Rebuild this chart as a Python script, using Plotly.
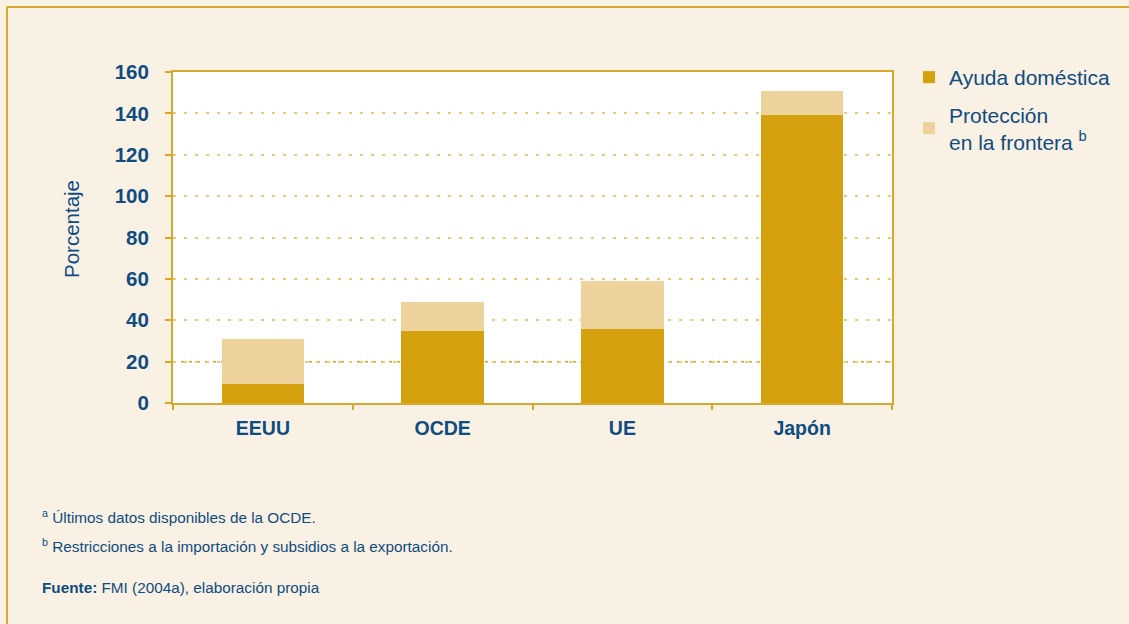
import plotly.graph_objects as go

categories = ["EEUU", "OCDE", "UE", "Japón"]
ayuda_domestica = [9, 35, 36, 139]
proteccion_frontera = [22, 14, 23, 12]
y_ticks = [0, 20, 40, 60, 80, 100, 120, 140, 160]

BLUE = "#0f4c81"
GOLD = "#d9a72a"
DARK = "#d4a00e"
LIGHT = "#eed29c"
BG = "#f9f1e3"
FONT = "Liberation Sans, Arial, sans-serif"

L, R, T, B = 173, 892, 72, 403
W, H = 1129, 624
def px_x(p):
    return (p - L) / (R - L)
def px_y(p):
    return (B - p) / (B - T)

fig = go.Figure()
fig.add_trace(go.Bar(x=categories, y=ayuda_domestica, name="Ayuda doméstica",
                     legendgroup="ayuda",
                     marker=dict(color=DARK, line=dict(width=0)), width=0.46))
fig.add_trace(go.Bar(x=categories, y=proteccion_frontera,
                     name="Protección<br>en la frontera <sup>b</sup>",
                     legendgroup="proteccion",
                     marker=dict(color=LIGHT, line=dict(width=0)), width=0.46))

shapes = []
shapes.append(dict(type="line", xref="paper", yref="y", x0=0, x1=1, y0=20, y1=20,
                   line=dict(color="#d9a010", width=1.5, dash="3px,5px"), layer="below"))
shapes.append(dict(type="line", xref="paper", yref="paper", x0=px_x(7), x1=px_x(W + 5),
                   y0=px_y(7), y1=px_y(7), line=dict(color=GOLD, width=2)))
shapes.append(dict(type="line", xref="paper", yref="paper", x0=px_x(7), x1=px_x(7),
                   y0=px_y(7), y1=px_y(H + 5), line=dict(color=GOLD, width=2)))

annotations = [
    dict(text="Porcentaje", xref="paper", yref="paper", x=px_x(71), y=px_y(229),
         textangle=-90, showarrow=False, font=dict(size=20.5, color=BLUE, family=FONT),
         xanchor="center", yanchor="middle"),
    dict(text="<sup>a</sup> Últimos datos disponibles de la OCDE.", xref="paper", yref="paper",
         x=px_x(40), y=px_y(516), showarrow=False, xanchor="left", yanchor="middle",
         font=dict(size=15.3, color=BLUE, family=FONT)),
    dict(text="<sup>b</sup> Restricciones a la importación y subsidios a la exportación.",
         xref="paper", yref="paper", x=px_x(40), y=px_y(545), showarrow=False,
         xanchor="left", yanchor="middle", font=dict(size=15.3, color=BLUE, family=FONT)),
    dict(text="<b>Fuente:</b> FMI (2004a), elaboración propia", xref="paper", yref="paper",
         x=px_x(40), y=px_y(587), showarrow=False, xanchor="left", yanchor="middle",
         font=dict(size=15.3, color=BLUE, family=FONT)),
]

fig.update_layout(
    barmode="stack",
    width=W, height=H,
    margin=dict(l=L, r=W - R, t=T, b=H - B, autoexpand=False),
    paper_bgcolor=BG, plot_bgcolor="white",
    font=dict(family=FONT, color=BLUE),
    showlegend=True,
    legend=dict(x=px_x(909), y=px_y(57), xanchor="left", yanchor="top",
                bgcolor="rgba(0,0,0,0)", font=dict(size=21, color=BLUE, family=FONT),
                tracegroupgap=7, traceorder="grouped", itemsizing="constant"),
    xaxis=dict(type="category", showline=True, linecolor=GOLD, linewidth=2, mirror=True,
               ticks="outside", tickson="boundaries", ticklen=5, tickwidth=1.5, tickcolor=GOLD,
               tickfont=dict(size=19.5, color=BLUE, family=FONT, weight="bold"),
               ticklabelstandoff=7, showgrid=False),
    yaxis=dict(range=[0, 160], tickvals=y_ticks, showline=True, linecolor=GOLD, linewidth=2,
               mirror=True, ticks="outside", ticklen=6, tickwidth=2, tickcolor=GOLD,
               tickfont=dict(size=20.5, color=BLUE, family=FONT, weight="bold"),
               ticklabelstandoff=12, showgrid=True,
               gridcolor="#ecc97a", gridwidth=1.5, griddash="3px,8px", zeroline=False),
    shapes=shapes,
    annotations=annotations,
    bargap=0.54,
)

fig.write_html("out.html", config={"displayModeBar": False},
               post_script="document.body.style.margin='0px';")
